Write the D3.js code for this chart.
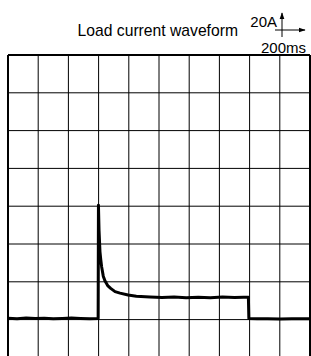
<!DOCTYPE html>
<html>
<head>
<meta charset="utf-8">
<script src="https://cdn.jsdelivr.net/npm/d3@7"></script>
<style>
  body { margin: 0; background: #fff; }
  text { font-family: "Liberation Sans", Arial, sans-serif; fill: #000; }
</style>
</head>
<body>
<script>
// waveform (time in ms, current in A)
var timeMs = [0, 60, 120, 180, 240, 300, 360, 420, 480, 540, 597,
  599, 603, 609, 614, 620, 631, 642, 660, 680, 709, 742, 795, 850, 940,
  1020, 1100, 1180, 1260, 1340, 1420, 1500, 1560, 1592,
  1595, 1650, 1720, 1800, 1880, 1950, 2000];
var currentA = [0.7, 0.5, 0.8, 0.6, 0.7, 0.5, 0.6, 0.8, 0.6, 0.5, 0.6,
  60.5, 47, 36, 32, 28, 23, 20.5, 18, 16.5, 14.8, 14, 13, 12.4, 12,
  11.7, 11.9, 11.6, 11.8, 11.6, 11.9, 11.7, 11.8, 11.8,
  0.6, 0.4, 0.5, 0.3, 0.5, 0.4, 0.4];

var xTicks = d3.range(0, 2001, 200);   // 200 ms / div
var yTicks = d3.range(-20, 141, 20);   // 20 A / div

var title = "Load current waveform";
var unitY = "20A";
var unitX = "200ms";

var width = 311, height = 356;

var svg = d3.select("body").append("svg")
  .attr("width", width)
  .attr("height", height);

var x = d3.scaleLinear()
  .domain([0, 2000])
  .range([8, 310]);

var y = d3.scaleLinear()
  .domain([-20, 140])
  .range([357.4, 55]);

// grid
svg.append("g")
  .attr("class", "grid-x")
  .selectAll("line")
  .data(xTicks)
  .enter().append("line")
  .attr("x1", function (d) { return x(d); })
  .attr("x2", function (d) { return x(d); })
  .attr("y1", y(140))
  .attr("y2", y(-20))
  .attr("stroke", "#000")
  .attr("stroke-width", function (d) { return (d == 0 || d == 2000) ? 2 : 1; });

svg.append("g")
  .attr("class", "grid-y")
  .selectAll("line")
  .data(yTicks)
  .enter().append("line")
  .attr("x1", x(0))
  .attr("x2", x(2000))
  .attr("y1", function (d) { return y(d); })
  .attr("y2", function (d) { return y(d); })
  .attr("stroke", "#000")
  .attr("stroke-width", function (d) { return d == 140 ? 2 : 1; });

// trace
var line = d3.line()
  .x(function (d, i) { return x(timeMs[i]); })
  .y(function (d) { return y(d); });

svg.append("path")
  .datum(currentA)
  .attr("d", line)
  .attr("fill", "none")
  .attr("stroke", "#000")
  .attr("stroke-width", 3)
  .attr("stroke-linejoin", "round");

// header
svg.append("text")
  .attr("x", 238)
  .attr("y", 36)
  .attr("text-anchor", "end")
  .style("font-size", "15.7px")
  .text(title);

svg.append("text")
  .attr("x", 277)
  .attr("y", 27)
  .attr("text-anchor", "end")
  .style("font-size", "15px")
  .text(unitY);

svg.append("text")
  .attr("x", 306)
  .attr("y", 53)
  .attr("text-anchor", "end")
  .style("font-size", "15px")
  .text(unitX);

// scale arrows
var defs = svg.append("defs");
defs.append("marker")
  .attr("id", "head")
  .attr("viewBox", "0 0 10 10")
  .attr("refX", 9)
  .attr("refY", 5)
  .attr("markerWidth", 7)
  .attr("markerHeight", 7)
  .attr("markerUnits", "userSpaceOnUse")
  .attr("orient", "auto")
  .append("path")
  .attr("d", "M0,1.5L10,5L0,8.5Z")
  .attr("fill", "#000");

svg.append("line")
  .attr("x1", 282).attr("y1", 37)
  .attr("x2", 282).attr("y2", 13)
  .attr("stroke", "#000").attr("stroke-width", 1)
  .attr("marker-end", "url(#head)");

svg.append("line")
  .attr("x1", 275).attr("y1", 30)
  .attr("x2", 305).attr("y2", 30)
  .attr("stroke", "#000").attr("stroke-width", 1)
  .attr("marker-end", "url(#head)");
</script>
</body>
</html>
